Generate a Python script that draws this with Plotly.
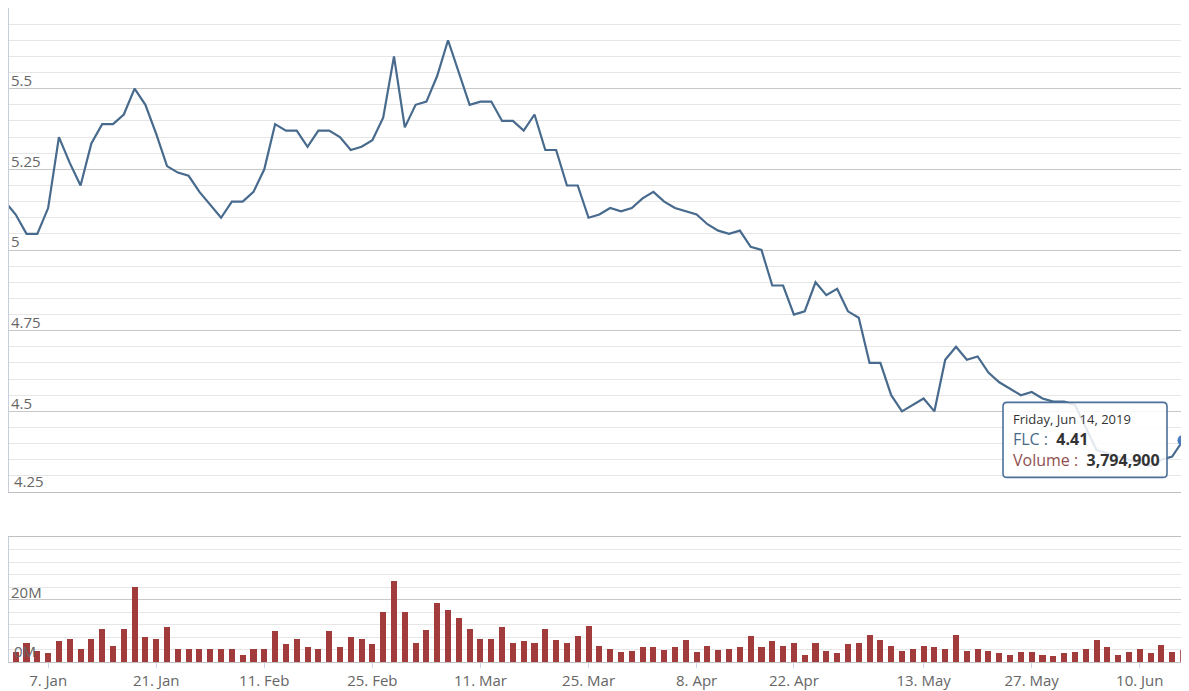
import plotly.graph_objects as go
import pandas as pd

# ---- categories: HOSE trading days (weekends and market holidays skipped) ----
holidays = ["2019-01-01", "2019-02-04", "2019-02-05", "2019-02-06", "2019-02-07",
            "2019-02-08", "2019-04-15", "2019-04-29", "2019-04-30", "2019-05-01"]
dates = pd.bdate_range("2018-12-31", "2019-06-14", freq="C", holidays=holidays)
date_str = [d.strftime("%Y-%m-%d") for d in dates]

# ---- series values ----
price = [5.15,
         5.11, 5.05, 5.05, 5.13, 5.35, 5.27, 5.20, 5.33, 5.39, 5.39,
         5.42, 5.50, 5.45, 5.36, 5.26, 5.24, 5.23, 5.18, 5.14, 5.10,
         5.15, 5.15, 5.18, 5.25, 5.39, 5.37, 5.37, 5.32, 5.37, 5.37,
         5.35, 5.31, 5.32, 5.34, 5.41, 5.60, 5.38, 5.45, 5.46, 5.54,
         5.65, 5.55, 5.45, 5.46, 5.46, 5.40, 5.40, 5.37, 5.42, 5.31,
         5.31, 5.20, 5.20, 5.10, 5.11, 5.13, 5.12, 5.13, 5.16, 5.18,
         5.15, 5.13, 5.12, 5.11, 5.08, 5.06, 5.05, 5.06, 5.01, 5.00,
         4.89, 4.89, 4.80, 4.81, 4.90, 4.86, 4.88, 4.81, 4.79, 4.65,
         4.65, 4.55, 4.50, 4.52, 4.54, 4.50, 4.66, 4.70, 4.66, 4.67,
         4.62, 4.59, 4.57, 4.55, 4.56, 4.54, 4.53, 4.53, 4.52, 4.45,
         4.38, 4.37, 4.36, 4.35, 4.34, 4.33, 4.35, 4.36, 4.41]

volume_m = [4.0,
            3.3, 6.2, 3.5, 2.8, 6.7, 7.5, 4.3, 7.2, 10.4, 5.1,
            10.7, 24.1, 7.9, 7.2, 11.1, 4.3, 4.3, 4.0, 4.0, 4.0,
            4.0, 2.3, 4.3, 4.0, 9.9, 5.9, 7.2, 4.8, 4.3, 9.9,
            4.8, 7.9, 7.5, 5.9, 15.9, 26.0, 15.9, 6.2, 10.3, 18.9,
            16.6, 14.2, 10.7, 7.5, 7.5, 11.1, 6.2, 6.7, 6.2, 10.7,
            7.1, 6.2, 8.3, 11.4, 5.1, 4.3, 3.1, 3.5, 4.7, 4.7,
            3.9, 4.7, 7.1, 3.1, 5.1, 3.9, 4.3, 4.7, 8.3, 4.7,
            6.7, 5.1, 6.2, 2.3, 6.2, 3.5, 2.8, 5.9, 6.2, 8.7,
            7.1, 5.1, 3.5, 4.3, 5.1, 4.7, 4.3, 8.7, 3.5, 4.3,
            3.5, 2.8, 2.3, 3.1, 3.1, 2.3, 1.9, 2.8, 3.1, 4.3,
            7.1, 4.7, 2.3, 3.1, 4.3, 2.8, 5.5, 3.1, 3.7949]
volume = [v * 1e6 for v in volume_m]

# ---- tick labels ----
tick_dates = ["2019-01-07", "2019-01-21", "2019-02-11", "2019-02-25", "2019-03-11",
              "2019-03-25", "2019-04-08", "2019-04-22", "2019-05-13", "2019-05-27",
              "2019-06-10"]
tick_labels = ["7. Jan", "21. Jan", "11. Feb", "25. Feb", "11. Mar", "25. Mar",
               "8. Apr", "22. Apr", "13. May", "27. May", "10. Jun"]
price_ticks = [4.25, 4.5, 4.75, 5.0, 5.25, 5.5, 5.75]
price_tick_text = ["4.25", "4.5", "4.75", "5", "5.25", "5.5", ""]
vol_ticks = [0, 20e6, 40e6]
vol_tick_text = ["0M", "20M", ""]

n = min(len(date_str), len(price), len(volume))
x_pos = list(range(n))
tickvals = [date_str.index(t) for t in tick_dates]

LINE = "#476a8d"
BAR = "#a23c3c"
bar_colors = [BAR] * (n - 1) + ["#b85a5a"]
LABEL_FONT = dict(family="Open Sans", size=15, color="#666666")

fig = go.Figure()
fig.add_trace(go.Bar(x=x_pos, y=volume[:n], width=0.56, marker=dict(color=bar_colors, line=dict(width=0)),
                     xaxis="x", yaxis="y", hoverinfo="skip"))
fig.add_trace(go.Scatter(x=x_pos, y=price[:n], mode="lines", line=dict(color=LINE, width=2.2),
                         xaxis="x2", yaxis="y2", hoverinfo="skip"))
fig.add_trace(go.Scatter(x=[x_pos[-1]], y=[price[n - 1]], mode="markers",
                         marker=dict(size=11, color="#4a7cbc", line=dict(width=0)),
                         cliponaxis=False, xaxis="x2", yaxis="y2", hoverinfo="skip"))

xr = [0.38, 109.0]
GRID_MAJ = "#c8c8c8"
GRID_MIN = "#e6e6e6"
BORDER = "#c6ced9"

# page body has an 8px default margin: figure is sized so it sits in the 1189x691 window
fig.update_layout(
    width=1181, height=683,
    margin=dict(l=1, r=6, t=0, b=29),
    paper_bgcolor="white", plot_bgcolor="white",
    showlegend=False, bargap=0,
    font=LABEL_FONT,
    xaxis=dict(domain=[0, 1], range=xr, anchor="y", tickmode="array", tickvals=tickvals,
               ticktext=tick_labels, showgrid=False, zeroline=False, ticks="outside",
               ticklen=5, tickcolor="#ccd6eb", showline=True, mirror=True,
               linecolor="#c0c0c0", linewidth=1, tickfont=LABEL_FONT),
    yaxis=dict(domain=[0, 0.1911], range=[0, 40e6], tickmode="array", tickvals=vol_ticks,
               ticktext=vol_tick_text, ticklabelposition="inside", ticklabelshift=-7,
               ticklabelstandoff=2, tickfont=LABEL_FONT,
               showgrid=True, gridcolor=GRID_MAJ, zeroline=False,
               minor=dict(tickmode="linear", tick0=0, dtick=4e6, showgrid=True,
                          gridcolor=GRID_MIN),
               showline=True, mirror=True, linecolor=BORDER, linewidth=2),
    xaxis2=dict(domain=[0, 1], range=xr, anchor="y2", matches="x", showticklabels=False,
                showgrid=False, zeroline=False, ticks="", showline=True, mirror=True,
                linecolor="#c0c0c0", linewidth=1),
    yaxis2=dict(domain=[0.2599, 1], range=[4.25, 5.75], tickmode="array", tickvals=price_ticks,
                ticktext=price_tick_text, ticklabelposition="inside", ticklabelshift=-8,
                ticklabelstandoff=2, tickfont=LABEL_FONT,
                showgrid=True, gridcolor=GRID_MAJ, zeroline=False,
                minor=dict(tickmode="linear", tick0=4.25, dtick=0.05, showgrid=True,
                           gridcolor=GRID_MIN),
                showline=True, mirror=True, linecolor=BORDER, linewidth=2),
)

# bottom-edge axis labels (Plotly hides inside labels sitting on the plot edge)
fig.add_annotation(x=0, y=price_ticks[0], xref="paper", yref="y2", text=price_tick_text[0],
                   showarrow=False, xanchor="left", yanchor="bottom", xshift=3, yshift=-1,
                   font=LABEL_FONT)
fig.add_annotation(x=0, y=vol_ticks[0], xref="paper", yref="y", text=vol_tick_text[0],
                   showarrow=False, xanchor="left", yanchor="bottom", xshift=3, yshift=-1,
                   font=LABEL_FONT)

# tooltip: rounded box (pixel-sized, anchored on the last point) + text
bx0, bx1, by0, by1, rr = -180, -16, -37, 38, 4
box_path = (f"M {bx0 + rr},{by0} L {bx1 - rr},{by0} Q {bx1},{by0} {bx1},{by0 + rr} "
            f"L {bx1},{by1 - rr} Q {bx1},{by1} {bx1 - rr},{by1} L {bx0 + rr},{by1} "
            f"Q {bx0},{by1} {bx0},{by1 - rr} L {bx0},{by0 + rr} Q {bx0},{by0} {bx0 + rr},{by0} Z")
fig.add_shape(type="path", xref="x2", yref="y2", xsizemode="pixel", ysizemode="pixel",
              xanchor=x_pos[-1], yanchor=price[n - 1], path=box_path,
              fillcolor="rgba(255,255,255,0.85)", line=dict(color="#4d6f98", width=1.6),
              layer="above")

last_date = dates[n - 1].strftime("%A, %b %d, %Y")
tip = (f"<span style='font-size:13px;color:#333333'>{last_date}</span><br>"
       f"<span style='color:#4a6a8a'>FLC : </span> <b>{price[n - 1]:.2f}</b><br>"
       f"<span style='color:#8e4f4f'>Volume : </span> <b>{volume[n - 1]:,.0f}</b>")
fig.add_annotation(x=x_pos[-1], y=price[n - 1], xref="x2", yref="y2", text=tip,
                   showarrow=False, xanchor="right", yanchor="middle", xshift=-16,
                   align="left", font=dict(family="Open Sans", size=16, color="#333333"),
                   bgcolor="rgba(0,0,0,0)", borderwidth=0, borderpad=7)

fig.write_html("out.html")
